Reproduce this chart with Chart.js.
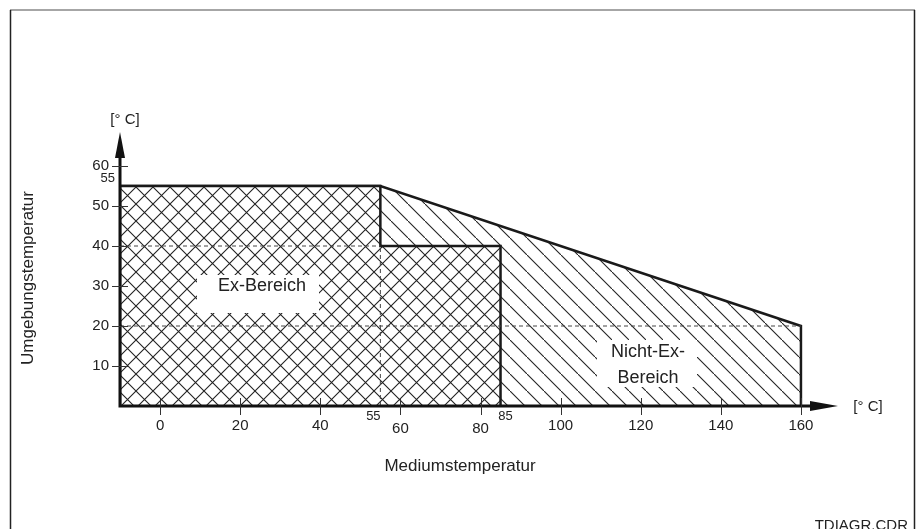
<!DOCTYPE html>
<html>
<head>
<meta charset="utf-8">
<script src="https://cdn.jsdelivr.net/npm/chart.js@4"></script>
<style>
  body { margin: 0; background: #fff; }
  canvas { display: block; }
</style>
</head>
<body>
<canvas id="chart" width="918" height="529"></canvas>
<script>
// data
const exX = [-10, -10, 55, 55, 85, 85];
const exY = [0, 55, 55, 40, 40, 0];
const nonExX = [-10, -10, 55, 160, 160];
const nonExY = [0, 55, 55, 20, 0];
const guide40X = [-10, 55];
const guide20X = [-10, 160];
const guide55Y = [0, 40];
const xTicks = [0, 20, 40, 60, 80, 100, 120, 140, 160];
const yTicks = [10, 20, 30, 40, 50, 60];
const xMarks = [55, 85];
const yMarks = [55];

const ink = '#222';
const font = '"Liberation Sans", Arial, sans-serif';

function hatch(both) {
    let s = 17;
    let c = document.createElement('canvas');
    c.width = s; c.height = s;
    let g = c.getContext('2d');
    if (both) { g.fillStyle = '#fff'; g.fillRect(0, 0, s, s); }
    g.strokeStyle = '#222';
    g.lineWidth = 1.1;
    g.beginPath();
    g.moveTo(-1, -1); g.lineTo(s + 1, s + 1);
    if (both) {
        g.moveTo(-1, s + 1); g.lineTo(s + 1, -1);
    }
    g.stroke();
    return g.createPattern(c, 'repeat');
}

const toPts = (xs, ys) => xs.map((x, i) => ({ x: x, y: ys[i] }));

const dashed = (pts) => ({
    data: pts, showLine: true, fill: false, pointRadius: 0,
    borderColor: '#444', borderWidth: 1, borderDash: [4, 3], order: 0
});

const overlay = {
    id: 'overlay',
    afterDatasetsDraw(chart) {
        let c = chart.ctx;
        let xs = chart.scales.x, ys = chart.scales.y;
        let x0 = xs.getPixelForValue(-10), y0 = ys.getPixelForValue(0);
        c.save();

        // frame
        c.strokeStyle = '#888'; c.lineWidth = 1.5;
        c.beginPath(); c.moveTo(10, 10); c.lineTo(915, 10); c.stroke();
        c.strokeStyle = '#222';
        c.beginPath(); c.moveTo(10.5, 10); c.lineTo(10.5, 529); c.stroke();
        c.beginPath(); c.moveTo(914.5, 10); c.lineTo(914.5, 529); c.stroke();

        // axes
        c.strokeStyle = '#111'; c.fillStyle = '#111'; c.lineWidth = 3;
        c.beginPath();
        c.moveTo(x0, y0 + 1.5); c.lineTo(x0, 150);
        c.moveTo(x0 - 1.5, y0); c.lineTo(815, y0);
        c.stroke();
        c.beginPath();
        c.moveTo(x0, 132); c.lineTo(x0 - 5, 158); c.lineTo(x0 + 5, 158); c.closePath();
        c.fill();
        c.beginPath();
        c.moveTo(838, y0); c.lineTo(810, y0 - 5); c.lineTo(810, y0 + 5); c.closePath();
        c.fill();

        // ticks
        c.lineWidth = 1; c.strokeStyle = '#333';
        c.beginPath();
        xTicks.forEach(v => {
            let p = Math.round(xs.getPixelForValue(v)) + 0.5;
            c.moveTo(p, y0 - 8); c.lineTo(p, y0 + 9);
        });
        yTicks.forEach(v => {
            let p = Math.round(ys.getPixelForValue(v)) + 0.5;
            c.moveTo(x0 - 8, p); c.lineTo(x0 + 8, p);
        });
        c.stroke();

        c.fillStyle = ink;
        c.font = '15px ' + font;
        c.textAlign = 'center'; c.textBaseline = 'middle';
        xTicks.forEach(v => {
            let dy = (v === 60 || v === 80) ? 23 : 20;
            c.fillText(String(v), xs.getPixelForValue(v), y0 + dy);
        });
        c.textAlign = 'right';
        yTicks.forEach(v => {
            c.fillText(String(v), x0 - 11, ys.getPixelForValue(v));
        });

        c.font = '13px ' + font;
        c.textAlign = 'center'; c.textBaseline = 'alphabetic';
        xMarks.forEach((v, i) => {
            let dx = i === 0 ? -7 : 5;
            c.fillText(String(v), xs.getPixelForValue(v) + dx, y0 + 14);
        });
        c.textAlign = 'right';
        yMarks.forEach(v => {
            c.fillText(String(v), x0 - 5, ys.getPixelForValue(v) - 4);
        });

        // unit labels
        c.font = '15px ' + font;
        c.textAlign = 'center'; c.textBaseline = 'middle';
        c.fillText('[° C]', x0 + 5, 120);
        c.fillText('[° C]', 868, y0 + 1);

        // axis titles
        c.font = '17px ' + font;
        c.fillText('Mediumstemperatur', 460, 466);
        c.save();
        c.translate(28, 278);
        c.rotate(-Math.PI / 2);
        c.fillText('Umgebungstemperatur', 0, 0);
        c.restore();

        // region labels
        c.fillStyle = '#fff';
        c.fillRect(197, 275, 122, 38);
        c.fillRect(597, 340, 100, 47);
        c.fillStyle = ink;
        c.font = '18px ' + font;
        c.fillText('Ex-Bereich', 262, 286);
        c.fillText('Nicht-Ex-', 648, 352);
        c.fillText('Bereich', 648, 378);

        c.font = '15px ' + font;
        c.textAlign = 'right'; c.textBaseline = 'alphabetic';
        c.fillText('TDIAGR.CDR', 908, 530);
        c.restore();
    }
};

new Chart(document.getElementById('chart'), {
    type: 'scatter',
    data: {
        datasets: [
            dashed(guide40X.map(x => ({ x: x, y: 40 }))),
            dashed(guide20X.map(x => ({ x: x, y: 20 }))),
            dashed(guide55Y.map(y => ({ x: 55, y: y }))),
            {
                data: toPts(exX, exY), showLine: true, fill: 'origin',
                backgroundColor: hatch(true), borderColor: '#1a1a1a',
                borderWidth: 2.5, pointRadius: 0, order: 1
            },
            {
                data: toPts(nonExX, nonExY), showLine: true, fill: 'origin',
                backgroundColor: hatch(false), borderColor: '#1a1a1a',
                borderWidth: 2.5, pointRadius: 0, order: 2
            }
        ]
    },
    options: {
        responsive: false,
        animation: false,
        layout: { padding: { left: 120, right: 77, top: 126, bottom: 123 } },
        plugins: { legend: { display: false }, tooltip: { enabled: false } },
        scales: {
            x: { type: 'linear', min: -10, max: 170, display: false },
            y: { type: 'linear', min: 0, max: 70, display: false }
        }
    },
    plugins: [overlay]
});
</script>
</body>
</html>
